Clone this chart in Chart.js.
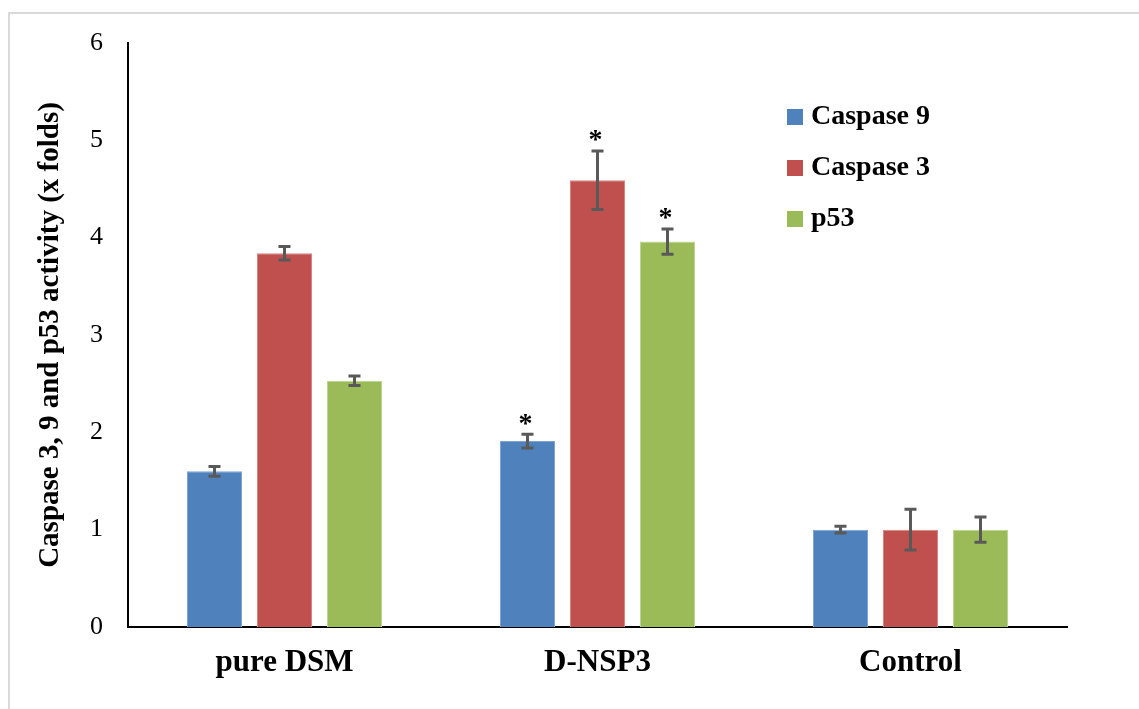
<!DOCTYPE html>
<html lang="en">
<head>
    <meta charset="UTF-8">
    <title>Caspase activity</title>
    <style>
        body{
            margin: 0;
            background: #ffffff;
        }
        #wrap{
            position: relative;
            width: 1139px;
            height: 709px;
        }
        #frame{
            position: absolute;
            left: 8px;
            top: 12px;
            right: 0;
            bottom: 0;
            border-left: 2px solid #d9d9d9;
            border-top: 2px solid #d9d9d9;
        }
        #grafik{
            position: absolute;
            left: 0;
            top: 0;
        }
    </style>
</head>
<body>
    <div id="wrap">
        <div id="frame"></div>
        <canvas id="grafik" width="1139" height="709"></canvas>
    </div>

    <script src="https://cdn.jsdelivr.net/npm/chart.js"></script>
    <script>
        const groups = ["pure DSM", "D-NSP3", "Control"]
        const seriesNames = ["Caspase 9", "Caspase 3", "p53"]
        const caspase9 = [1.60, 1.91, 1.00]
        const caspase3 = [3.84, 4.59, 1.00]
        const p53 = [2.53, 3.96, 1.00]
        const err9 = [0.05, 0.07, 0.035]
        const err3 = [0.07, 0.30, 0.21]
        const errP53 = [0.05, 0.13, 0.13]
        // which bars get a "*" (per series, per group)
        const star9 = [false, true, false]
        const star3 = [false, true, false]
        const starP53 = [false, true, false]
        const yTicks = [0, 1, 2, 3, 4, 5, 6]

        const colors = ["#4f81bd", "#c0504d", "#9bbb59"]
        const edges = ["#7fa3d1", "#d98583", "#bdd592"]
        const serif = "'Liberation Serif', 'Times New Roman', serif"

        const errorBars = {
            id: 'errorBars',
            afterDatasetsDraw(chart){
                const ctx = chart.ctx
                const yScale = chart.scales.y
                ctx.save()
                chart.data.datasets.forEach((ds, i) => {
                    const meta = chart.getDatasetMeta(i)
                    meta.data.forEach((bar, j) => {
                        const v = ds.data[j]
                        const e = ds.errors[j]
                        const x = bar.x
                        const yTop = yScale.getPixelForValue(v + e)
                        const yBot = yScale.getPixelForValue(v - e)
                        ctx.strokeStyle = "#595959"
                        ctx.lineWidth = 3
                        ctx.beginPath()
                        ctx.moveTo(x, yTop)
                        ctx.lineTo(x, yBot)
                        ctx.moveTo(x - 6, yTop)
                        ctx.lineTo(x + 6, yTop)
                        ctx.moveTo(x - 6, yBot)
                        ctx.lineTo(x + 6, yBot)
                        ctx.stroke()
                        if (ds.stars[j]) {
                            ctx.fillStyle = "#000000"
                            ctx.font = "bold 28px " + serif
                            ctx.textAlign = "center"
                            ctx.textBaseline = "middle"
                            ctx.fillText("*", x - 2, yTop - 10)
                        }
                    })
                })
                ctx.restore()
            }
        }

        const sideLegend = {
            id: 'sideLegend',
            afterDraw(chart){
                const ctx = chart.ctx
                ctx.save()
                ctx.font = "bold 28px " + serif
                ctx.textBaseline = "middle"
                ctx.textAlign = "left"
                chart.data.datasets.forEach((ds, i) => {
                    const y = 117 + i * 51
                    ctx.fillStyle = ds.backgroundColor
                    ctx.fillRect(787, y - 8, 16, 16)
                    ctx.fillStyle = "#000000"
                    ctx.fillText(ds.label, 811, y)
                })
                ctx.restore()
            }
        }

        const values = [caspase9, caspase3, p53]
        const errs = [err9, err3, errP53]
        const stars = [star9, star3, starP53]

        new Chart(document.getElementById('grafik'), {
            type: 'bar',
            data: {
                labels: groups,
                datasets: seriesNames.map((name, i) => ({
                    label: name,
                    data: values[i],
                    errors: errs[i],
                    stars: stars[i],
                    backgroundColor: colors[i],
                    borderColor: edges[i],
                    borderWidth: 1,
                    categoryPercentage: 0.671,
                    barPercentage: 0.786
                }))
            },
            options: {
                responsive: false,
                animation: false,
                devicePixelRatio: 1,
                layout: {
                    padding: { left: 0, top: 43, right: 72, bottom: 0 }
                },
                plugins: {
                    legend: { display: false },
                    tooltip: { enabled: false }
                },
                scales: {
                    x: {
                        grid: { display: false, drawTicks: false },
                        border: { color: "#000000", width: 2 },
                        ticks: {
                            color: "#000000",
                            padding: 17,
                            font: { family: serif, size: 31, weight: 'bold' }
                        },
                        afterFit(scale){ scale.height = 82 }
                    },
                    y: {
                        min: 0,
                        max: 6,
                        afterBuildTicks(scale){
                            scale.ticks = yTicks.map(v => ({ value: v }))
                        },
                        grid: { display: false, drawTicks: false },
                        border: { color: "#000000", width: 2 },
                        ticks: {
                            color: "#000000",
                            padding: 25,
                            font: { family: serif, size: 26 }
                        },
                        title: {
                            display: true,
                            text: "Caspase 3, 9 and p53 activity (x folds)",
                            color: "#000000",
                            padding: { top: 33, bottom: 0 },
                            font: { family: serif, size: 29, weight: 'bold' }
                        },
                        afterFit(scale){ scale.width = 128 }
                    }
                }
            },
            plugins: [errorBars, sideLegend]
        });
    </script>
</body>
</html>
